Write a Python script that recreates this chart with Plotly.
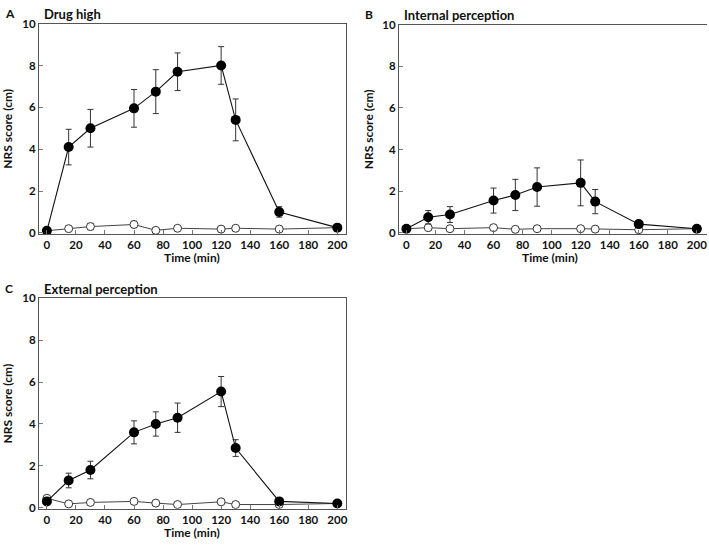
import plotly.graph_objects as go

# sampling times (min)
times = [0, 15, 30, 60, 75, 90, 120, 130, 160, 200]

# A: Drug high
drug_high = [0.1, 4.1, 5.0, 5.95, 6.75, 7.7, 8.0, 5.4, 1.0, 0.25]
drug_high_err = [0.05, 0.85, 0.9, 0.9, 1.05, 0.9, 0.9, 1.0, 0.25, 0.05]
plac_high = [0.1, 0.2, 0.3, 0.4, 0.12, 0.22, 0.18, 0.22, 0.18, 0.25]
plac_high_err = [0.03, 0.05, 0.15, 0.15, 0.05, 0.1, 0.05, 0.05, 0.05, 0.05]

# B: Internal perception
drug_int = [0.2, 0.75, 0.88, 1.55, 1.82, 2.2, 2.4, 1.5, 0.42, 0.2]
drug_int_err = [0.03, 0.32, 0.38, 0.6, 0.75, 0.92, 1.1, 0.58, 0.15, 0.03]
plac_int = [0.2, 0.25, 0.2, 0.25, 0.17, 0.2, 0.2, 0.18, 0.15, 0.2]
plac_int_err = [0.02, 0.05, 0.02, 0.03, 0.02, 0.02, 0.02, 0.02, 0.02, 0.02]

# C: External perception
drug_ext = [0.3, 1.3, 1.8, 3.6, 4.0, 4.3, 5.55, 2.85, 0.3, 0.2]
drug_ext_err = [0.05, 0.35, 0.42, 0.55, 0.58, 0.7, 0.72, 0.4, 0.05, 0.03]
plac_ext = [0.45, 0.18, 0.25, 0.3, 0.22, 0.15, 0.28, 0.15, 0.15, 0.2]
plac_ext_err = [0.05, 0.02, 0.03, 0.03, 0.02, 0.02, 0.03, 0.02, 0.02, 0.02]

panels = [
    ("A", "Drug high", drug_high, drug_high_err, plac_high, plac_high_err),
    ("B", "Internal perception", drug_int, drug_int_err, plac_int, plac_int_err),
    ("C", "External perception", drug_ext, drug_ext_err, plac_ext, plac_ext_err),
]

W, H = 709, 546
FONT = "Lato"
TXT = "#111"

fig = go.Figure()

# pixel boxes of each plot area: (left, right, top, bottom) and x range
boxes = [(39, 347, 17, 232), (400, 709, 18, 232), (39, 347, 298, 513)]
xranges = [[-5.5, 206], [-5.2, 207], [-5.5, 206]]


def bold(size):
    return dict(family=FONT, size=size, color=TXT, weight="bold")


for i, (letter, title, drug, derr, plac, perr) in enumerate(panels):
    n = "" if i == 0 else str(i + 1)
    xa, ya = "x" + n, "y" + n
    # placebo, open circles
    fig.add_trace(go.Scatter(
        x=times, y=plac, mode="lines+markers", xaxis=xa, yaxis=ya,
        line=dict(color="#444", width=1),
        marker=dict(symbol="circle", size=8, color="white",
                    line=dict(color="#333", width=1)),
        error_y=dict(type="data", array=perr, color="#444", thickness=1, width=3),
        showlegend=False))
    # drug, filled circles
    fig.add_trace(go.Scatter(
        x=times, y=drug, mode="lines+markers", xaxis=xa, yaxis=ya,
        line=dict(color="#111", width=1.1),
        marker=dict(symbol="circle", size=10, color="black"),
        error_y=dict(type="data", array=derr, color="#333", thickness=1, width=3),
        showlegend=False))

    l, r, t, b = boxes[i]
    axis_common = dict(showline=True, linecolor="#555", linewidth=1,
                       ticks="inside", ticklen=4, tickcolor="#777",
                       showgrid=False, zeroline=False, tickfont=bold(11.5))
    fig.layout["xaxis" + n] = dict(
        domain=[l / W, r / W], anchor=ya, range=xranges[i], mirror=True,
        tickvals=list(range(0, 201, 20)), **axis_common)
    fig.layout["yaxis" + n] = dict(
        domain=[1 - b / H, 1 - t / H], anchor=xa, range=[-0.05, 10],
        mirror=(i != 1), tickvals=[0, 2, 4, 6, 8, 10], **axis_common)

    # axis titles
    fig.add_annotation(x=(l + r) / 2 / W if i != 1 else (l + 704) / 2 / W,
                       y=1 - (b + 24) / H, xref="paper", yref="paper",
                       text="Time (min)", showarrow=False, xanchor="center",
                       yanchor="middle", font=bold(12))
    fig.add_annotation(x=(l - 31) / W, y=1 - (t + b) / 2 / H, xref="paper", yref="paper",
                       text="NRS score (cm)", showarrow=False, textangle=-90,
                       xanchor="center", yanchor="middle", font=bold(12))

    # panel letter and title
    fig.add_annotation(x=(l - 36) / W, y=1 - (t - 10) / H, xref="paper", yref="paper",
                       text=letter, showarrow=False, xanchor="left", yanchor="middle",
                       font=bold(12))
    fig.add_annotation(x=(l + 3) / W, y=1 - (t - 10) / H, xref="paper", yref="paper",
                       text=title, showarrow=False, xanchor="left", yanchor="middle",
                       font=bold(13))

fig.update_layout(
    width=W, height=H,
    margin=dict(l=0, r=0, t=0, b=0),
    paper_bgcolor="white", plot_bgcolor="white",
)

# drop the default page margin so the figure sits at the window's corner
fig.write_html("out.html", config={"displayModeBar": False},
               post_script="document.body.style.margin='0';")
